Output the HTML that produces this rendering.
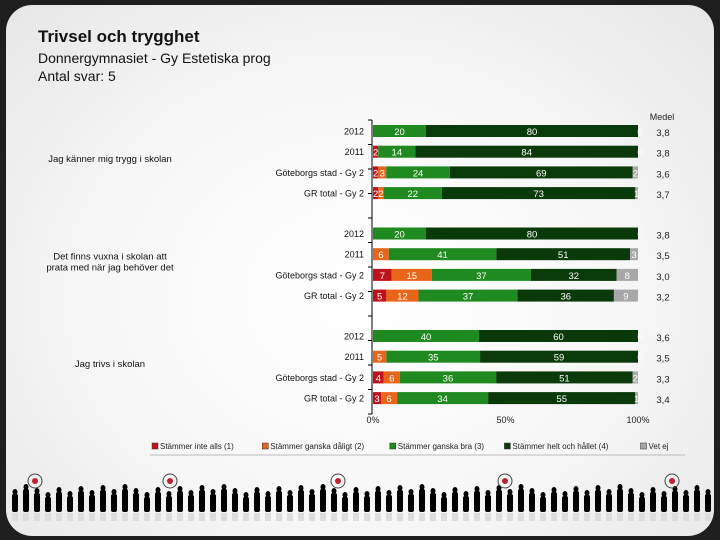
<!DOCTYPE html>
<html><head><meta charset="utf-8"><style>
body{margin:0;width:720px;height:540px;background:#1e1e1e;font-family:"Liberation Sans",sans-serif;overflow:hidden}
#card{position:absolute;left:6px;top:5px;width:708px;height:531px;border-radius:26px;background:radial-gradient(ellipse at 50% 55%,#ffffff 0%,#f6f6f6 55%,#e6e6e6 100%);overflow:hidden}
</style></head><body>
<div id="card">
<svg id="chart" width="720" height="540" style="position:absolute;left:-6px;top:-5px">
<text x="38" y="42" font-size="17" font-weight="bold" fill="#111">Trivsel och trygghet</text>
<text x="38" y="63" font-size="14" fill="#111">Donnergymnasiet - Gy Estetiska prog</text>
<text x="38" y="81" font-size="14" fill="#111">Antal svar: 5</text>
</svg></div>
<script>
const questions=["Jag känner mig trygg i skolan","Det finns vuxna i skolan att|prata med när jag behöver det","Jag trivs i skolan"];
const groups=["2012","2011","Göteborgs stad - Gy 2","GR total - Gy 2"];
const s1=[0,2,2,2, 0,0,7,5, 0,0,4,3];
const s2=[0,0,3,2, 0,6,15,12, 0,5,6,6];
const s3=[20,14,24,22, 20,41,37,37, 40,35,36,34];
const s4=[80,84,69,73, 80,51,32,36, 60,59,51,55];
const s5=[0,0,2,1, 0,3,8,9, 0,0,2,1];
const medel=["3,8","3,8","3,6","3,7","3,8","3,5","3,0","3,2","3,6","3,5","3,3","3,4"];
const series=[s1,s2,s3,s4,s5];
const seriesNames=["Stämmer inte alls (1)","Stämmer ganska dåligt (2)","Stämmer ganska bra (3)","Stämmer helt och hållet (4)","Vet ej"];
const colors=["#c0121a","#e8651a","#1f8a1f","#0a3a0a","#a8a8a8"];
const xTicks=[0,50,100];
const svg=document.getElementById('chart');const NS='http://www.w3.org/2000/svg';
function mk(t,a,p){const e=document.createElementNS(NS,t);for(const k in a)e.setAttribute(k,a[k]);(p||svg).appendChild(e);return e;}
const X0=373,X1=638;function xs(v){return X0+(X1-X0)*v/100;}
function ys(i){const q=Math.floor(i/4),r=i%4;return 131+q*102.5+r*20.7;}
const ax=mk('line',{x1:372,y1:120,x2:372,y2:414,stroke:'#000','stroke-width':1});


for(let i=0;i<=12;i++){const y=120+i*24.5;const t=mk('line',{x1:368,y1:y,x2:372,y2:y,stroke:'#000'});}
xTicks.forEach(v=>{const t=mk('text',{x:xs(v),y:423,'font-size':9,'text-anchor':'middle',fill:'#222'});t.textContent=v+'%';});
const mt=mk('text',{x:662,y:120,'font-size':9,'text-anchor':'middle',fill:'#222'});mt.textContent='Medel';


questions.forEach((q,qi)=>{const lines=q.split('|');const cy=ys(qi*4)+31;lines.forEach((l,li)=>{const t=mk('text',{x:110,y:cy+li*11-(lines.length-1)*5,'font-size':9.5,'text-anchor':'middle',fill:'#111'});t.textContent=l;});});
for(let i=0;i<12;i++){const y=ys(i);
 const gl=mk('text',{x:364,y:y+3.5,'font-size':9,'text-anchor':'end',fill:'#111'});gl.textContent=groups[i%4];
 let tot=0;series.forEach(s=>tot+=s[i]);let acc=0;
 series.forEach((s,si)=>{const v=s[i]*100/tot;const x=xs(acc),w=xs(acc+v)-x;acc+=v;
  const r=mk('rect',{x:x,y:y-6,width:Math.max(w,0),height:12,fill:colors[si]});
  const t=mk('text',{x:w>0?x+w/2:x+2,y:y+4,'font-size':9.5,'text-anchor':'middle',fill:'#fff'});t.textContent=s[i];});
 const m=mk('text',{x:663,y:y+5,'font-size':9.5,'text-anchor':'middle',fill:'#222'});m.textContent=medel[i];}
const lg=mk('line',{x1:150,y1:455,x2:685,y2:455,stroke:'#bbb'});
let lx=152;seriesNames.forEach((n,i)=>{const r=mk('rect',{x:lx,y:443,width:6,height:6,fill:colors[i],stroke:'#333','stroke-width':0.5});
 const t=mk('text',{x:lx+8,y:449,'font-size':8,fill:'#222'});t.textContent=n;lx+=8+n.length*4.3+12;});
// decorative silhouettes
const pg=mk('g',{fill:'#000'});
for(let x=12;x<712;x+=11){const h=18+((x*7)%9);mk('ellipse',{cx:x+3,cy:513-h,rx:2.5,ry:3},pg);mk('rect',{x:x,y:515-h,width:6,height:h-3,rx:2},pg);mk('rect',{x:x,y:513,width:6,height:8,fill:'#ddd'},pg);}
[35,170,338,505,672].forEach(x=>{const g=mk('g',{});mk('circle',{cx:x,cy:481,r:7,fill:'none',stroke:'#444'},g);mk('circle',{cx:x,cy:481,r:3,fill:'#c02030'},g);});
</script>
</body></html>
